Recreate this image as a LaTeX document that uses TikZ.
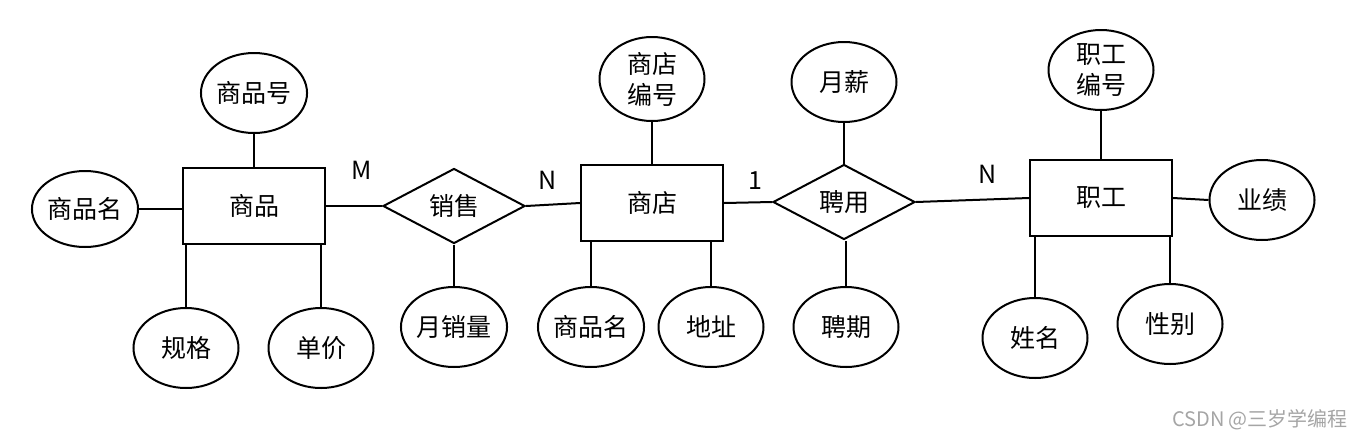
\documentclass[tikz,border=0pt]{standalone}
\usepackage{fontspec}
\setmainfont{Noto Sans CJK SC}
\usetikzlibrary{shapes.geometric,positioning}
\definecolor{markgray}{RGB}{165,165,165}
\tikzset{
  entity/.style={draw, rectangle, minimum width=71pt, minimum height=38pt, inner sep=0pt},
  attr/.style={draw, ellipse, minimum width=52.5pt, minimum height=40pt, inner sep=0pt, align=center},
  rel/.style={draw, diamond, aspect=1.9, minimum width=71pt, minimum height=37.5pt, inner sep=0pt},
  card/.style={inner sep=0pt}
}

\begin{document}
\begin{tikzpicture}[x=0.5pt, y=-0.5pt, line width=1pt, font=\fontsize{12.5}{15.5}\selectfont]
  \useasboundingbox (0,0) rectangle (1360,440);
  % entity: goods
  \node[entity] (sp) at (254,206) {商品};
  \node[attr, minimum width=48.5pt, minimum height=38pt] (spm) at (85,209) {商品名};
  \node[attr] (sph) at (254,93) {商品号};
  \node[attr] (gg) at (186,348) {规格};
  \node[attr] (dj) at (321,348) {单价};
  % relation: sale
  \node[rel] (xs) at (454,206) {销售};
  \node[attr] (yxl) at (454,327) {月销量};
  % entity: shop
  \node[entity] (sd) at (652,203) {商店};
  \node[attr, minimum height=42pt] (sdbh) at (652,79) {商店\\编号};
  \node[attr] (sdspm) at (591,327) {商品名};
  \node[attr] (dz) at (711,327) {地址};
  % relation: hire
  \node[rel] (py) at (844,202) {聘用};
  \node[attr] (yx) at (844,82) {月薪};
  \node[attr] (pq) at (846,327) {聘期};
  % entity: staff
  \node[entity] (zg) at (1101,198) {职工};
  \node[attr] (zgbh) at (1101,70) {职工\\编号};
  \node[attr] (yj) at (1262,200) {业绩};
  \node[attr] (xm) at (1035,338) {姓名};
  \node[attr] (xb) at (1170,324) {性别};
  % cardinalities
  \node[card] (m1) at (362,170) {M};
  \node[card] (n1) at (548,180) {N};
  \node[card] (one) at (755,181) {1};
  \node[card] (n2) at (988,174) {N};

  \draw (spm.east) -- (spm.east -| sp.west);
  \draw (sph.south) -- (sp.north);
  \draw (gg.north) -- (gg.north |- sp.south);
  \draw (dj.north) -- (dj.north |- sp.south);
  \draw (sp.east) -- (xs.west);
  \draw (xs.south) -- (yxl.north);
  \draw (xs.east) -- (sd.west);
  \draw (sdbh.south) -- (sd.north);
  \draw (sdspm.north) -- (sdspm.north |- sd.south);
  \draw (dz.north) -- (dz.north |- sd.south);
  \draw (sd.east) -- (py.west);
  \draw (yx.south) -- (py.north);
  \draw (pq.north) -- (pq.north |- py.south);
  \draw (py.east) -- (zg.west);
  \draw (zgbh.south) -- (zg.north);
  \draw (zg.east) -- (yj.west);
  \draw (xm.north) -- (xm.north |- zg.south);
  \draw (xb.north) -- (xb.north |- zg.south);

  \node[markgray, font=\fontsize{10}{12}\selectfont] (mark) at (1260,420) {CSDN @三岁学编程};
\end{tikzpicture}
\end{document}
